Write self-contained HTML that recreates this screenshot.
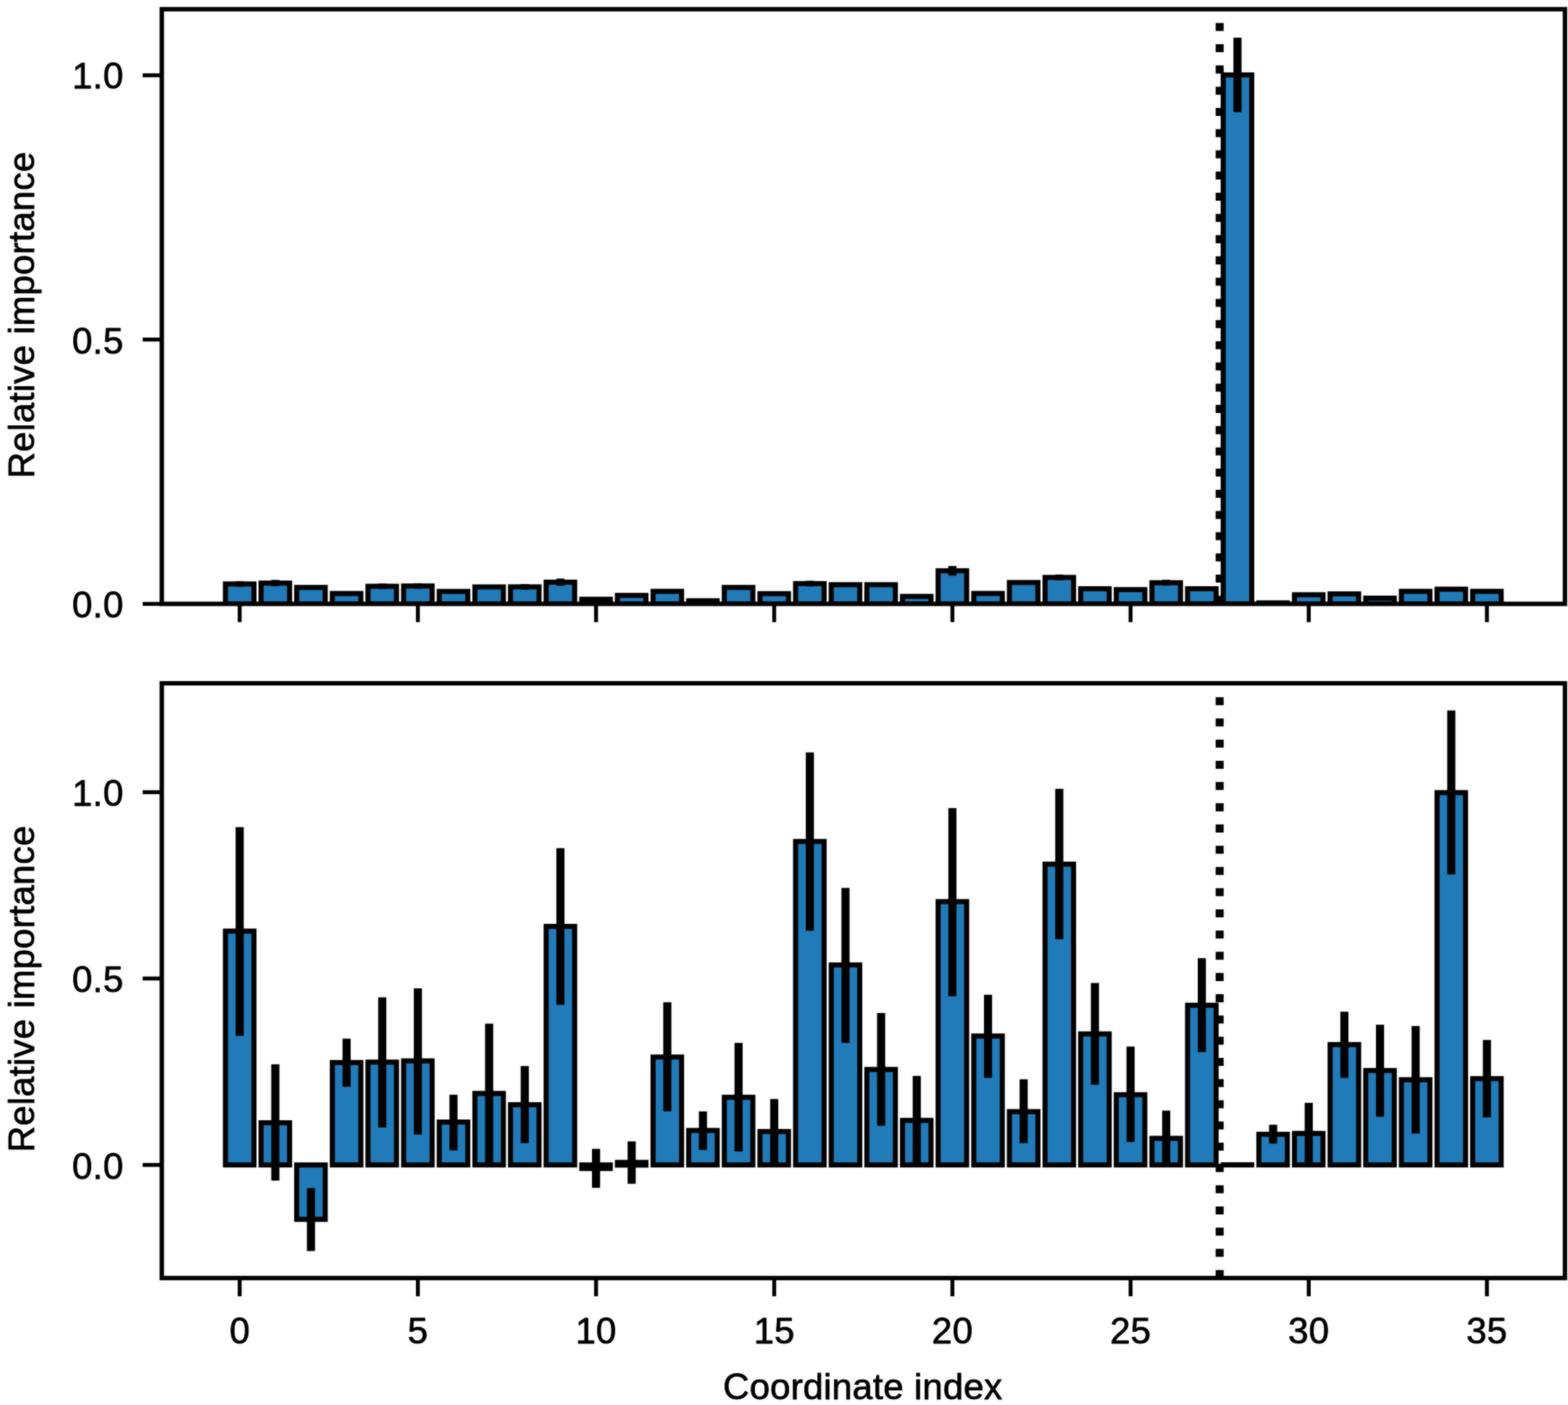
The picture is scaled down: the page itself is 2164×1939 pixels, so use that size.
<!DOCTYPE html>
<html lang="en"><head><meta charset="utf-8"><title>Relative importance by coordinate index</title>
<style>html,body{margin:0;padding:0;background:#fff}body{width:2164px;height:1939px}svg{display:block}text{font-family:"Liberation Sans",Arial,Helvetica,sans-serif;font-size:50.4px;fill:#000;stroke:#000;stroke-width:0.9px;stroke-linejoin:round;letter-spacing:0.3px}</style>
</head><body>
<svg width="2164" height="1939" viewBox="0 0 2164 1939">
<defs><filter id="soft" filterUnits="userSpaceOnUse" x="-20" y="-20" width="2204" height="1979" color-interpolation-filters="sRGB"><feGaussianBlur stdDeviation="1" result="b"/><feComposite in="SourceGraphic" in2="b" operator="arithmetic" k1="0" k2="0.45" k3="0.55" k4="0"/></filter></defs>
<defs><clipPath id="clip-top"><rect x="223.3" y="12.7" width="1936.5" height="820.7"/></clipPath><clipPath id="clip-bottom"><rect x="223.3" y="943" width="1936.5" height="820.8"/></clipPath></defs>
<g filter="url(#soft)">
<rect x="-30" y="-30" width="2224" height="1999" fill="#fff"/>
<g id="top-chart">
<g clip-path="url(#clip-top)">
<rect x="311.13" y="805.9" width="39.34" height="27.5" fill="#217bb9" stroke="#000" stroke-width="7.0"/>
<rect x="360.31" y="804.7" width="39.34" height="28.7" fill="#217bb9" stroke="#000" stroke-width="7.0"/>
<rect x="409.49" y="810.7" width="39.34" height="22.7" fill="#217bb9" stroke="#000" stroke-width="7.0"/>
<rect x="458.67" y="819.1" width="39.34" height="14.3" fill="#217bb9" stroke="#000" stroke-width="7.0"/>
<rect x="507.85" y="809.1" width="39.34" height="24.3" fill="#217bb9" stroke="#000" stroke-width="7.0"/>
<rect x="557.03" y="808.7" width="39.34" height="24.7" fill="#217bb9" stroke="#000" stroke-width="7.0"/>
<rect x="606.21" y="816.2" width="39.34" height="17.2" fill="#217bb9" stroke="#000" stroke-width="7.0"/>
<rect x="655.39" y="810" width="39.34" height="23.4" fill="#217bb9" stroke="#000" stroke-width="7.0"/>
<rect x="704.57" y="809.9" width="39.34" height="23.5" fill="#217bb9" stroke="#000" stroke-width="7.0"/>
<rect x="753.75" y="803.4" width="39.34" height="30" fill="#217bb9" stroke="#000" stroke-width="7.0"/>
<rect x="802.93" y="827" width="39.34" height="6.4" fill="#217bb9" stroke="#000" stroke-width="7.0"/>
<rect x="852.11" y="821.7" width="39.34" height="11.7" fill="#217bb9" stroke="#000" stroke-width="7.0"/>
<rect x="901.29" y="816.1" width="39.34" height="17.3" fill="#217bb9" stroke="#000" stroke-width="7.0"/>
<rect x="950.47" y="829.1" width="39.34" height="4.3" fill="#217bb9" stroke="#000" stroke-width="7.0"/>
<rect x="999.65" y="810.7" width="39.34" height="22.7" fill="#217bb9" stroke="#000" stroke-width="7.0"/>
<rect x="1048.83" y="819.3" width="39.34" height="14.1" fill="#217bb9" stroke="#000" stroke-width="7.0"/>
<rect x="1098.01" y="805.4" width="39.34" height="28" fill="#217bb9" stroke="#000" stroke-width="7.0"/>
<rect x="1147.19" y="806.9" width="39.34" height="26.5" fill="#217bb9" stroke="#000" stroke-width="7.0"/>
<rect x="1196.37" y="806.9" width="39.34" height="26.5" fill="#217bb9" stroke="#000" stroke-width="7.0"/>
<rect x="1245.55" y="823.1" width="39.34" height="10.3" fill="#217bb9" stroke="#000" stroke-width="7.0"/>
<rect x="1294.73" y="787.7" width="39.34" height="45.7" fill="#217bb9" stroke="#000" stroke-width="7.0"/>
<rect x="1343.91" y="819" width="39.34" height="14.4" fill="#217bb9" stroke="#000" stroke-width="7.0"/>
<rect x="1393.09" y="803.9" width="39.34" height="29.5" fill="#217bb9" stroke="#000" stroke-width="7.0"/>
<rect x="1442.27" y="796.9" width="39.34" height="36.5" fill="#217bb9" stroke="#000" stroke-width="7.0"/>
<rect x="1491.45" y="812.5" width="39.34" height="20.9" fill="#217bb9" stroke="#000" stroke-width="7.0"/>
<rect x="1540.63" y="813.7" width="39.34" height="19.7" fill="#217bb9" stroke="#000" stroke-width="7.0"/>
<rect x="1589.81" y="804.2" width="39.34" height="29.2" fill="#217bb9" stroke="#000" stroke-width="7.0"/>
<rect x="1638.99" y="812.5" width="39.34" height="20.9" fill="#217bb9" stroke="#000" stroke-width="7.0"/>
<rect x="1688.17" y="103.4" width="39.34" height="730" fill="#217bb9" stroke="#000" stroke-width="7.0"/>
<rect x="1737.35" y="832" width="39.34" height="1.4" fill="#217bb9" stroke="#000" stroke-width="7.0"/>
<rect x="1786.53" y="820.8" width="39.34" height="12.6" fill="#217bb9" stroke="#000" stroke-width="7.0"/>
<rect x="1835.71" y="819.6" width="39.34" height="13.8" fill="#217bb9" stroke="#000" stroke-width="7.0"/>
<rect x="1884.89" y="825.5" width="39.34" height="7.9" fill="#217bb9" stroke="#000" stroke-width="7.0"/>
<rect x="1934.07" y="816.1" width="39.34" height="17.3" fill="#217bb9" stroke="#000" stroke-width="7.0"/>
<rect x="1983.25" y="813.1" width="39.34" height="20.3" fill="#217bb9" stroke="#000" stroke-width="7.0"/>
<rect x="2032.43" y="816.1" width="39.34" height="17.3" fill="#217bb9" stroke="#000" stroke-width="7.0"/>
<rect x="325.2" y="802" width="11.2" height="7.8" fill="#000"/>
<rect x="374.38" y="800.3" width="11.2" height="8.8" fill="#000"/>
<rect x="521.92" y="805.3" width="11.2" height="7.6" fill="#000"/>
<rect x="571.1" y="804.9" width="11.2" height="7.6" fill="#000"/>
<rect x="718.64" y="806" width="11.2" height="7.8" fill="#000"/>
<rect x="767.82" y="798.5" width="11.2" height="9.8" fill="#000"/>
<rect x="1112.08" y="801.5" width="11.2" height="7.8" fill="#000"/>
<rect x="1308.8" y="781.1" width="11.2" height="13.2" fill="#000"/>
<rect x="1456.34" y="792.9" width="11.2" height="8" fill="#000"/>
<rect x="1603.88" y="800.2" width="11.2" height="8" fill="#000"/>
<rect x="1702.24" y="52" width="11.2" height="102.8" fill="#000"/>
<line x1="1683.25" y1="833.4" x2="1683.25" y2="12.7" stroke="#000" stroke-width="11.05" stroke-dasharray="11.05 18.23"/>
</g>
<rect x="196.9" y="101.2" width="26.4" height="5.4" fill="#000"/>
<text x="170.5" y="122" text-anchor="end">1.0</text>
<rect x="196.9" y="465.9" width="26.4" height="5.4" fill="#000"/>
<text x="170.5" y="488.2" text-anchor="end">0.5</text>
<rect x="196.9" y="830.7" width="26.4" height="5.4" fill="#000"/>
<text x="170.5" y="852" text-anchor="end">0.0</text>
<rect x="328.1" y="833.4" width="5.4" height="25.2" fill="#000"/>
<rect x="574" y="833.4" width="5.4" height="25.2" fill="#000"/>
<rect x="819.9" y="833.4" width="5.4" height="25.2" fill="#000"/>
<rect x="1065.8" y="833.4" width="5.4" height="25.2" fill="#000"/>
<rect x="1311.7" y="833.4" width="5.4" height="25.2" fill="#000"/>
<rect x="1557.6" y="833.4" width="5.4" height="25.2" fill="#000"/>
<rect x="1803.5" y="833.4" width="5.4" height="25.2" fill="#000"/>
<rect x="2049.4" y="833.4" width="5.4" height="25.2" fill="#000"/>
<rect x="223.3" y="12.7" width="1936.5" height="820.7" fill="none" stroke="#000" stroke-width="6.1"/>
<text transform="translate(46.8,434.8) rotate(-90)" text-anchor="middle">Relative importance</text>
</g>
<g id="bottom-chart">
<g clip-path="url(#clip-bottom)">
<rect x="311.13" y="1285" width="39.34" height="322.7" fill="#217bb9" stroke="#000" stroke-width="7.0"/>
<rect x="360.31" y="1549.5" width="39.34" height="58.2" fill="#217bb9" stroke="#000" stroke-width="7.0"/>
<rect x="409.49" y="1607.7" width="39.34" height="75.1" fill="#217bb9" stroke="#000" stroke-width="7.0"/>
<rect x="458.67" y="1466.4" width="39.34" height="141.3" fill="#217bb9" stroke="#000" stroke-width="7.0"/>
<rect x="507.85" y="1465.8" width="39.34" height="141.9" fill="#217bb9" stroke="#000" stroke-width="7.0"/>
<rect x="557.03" y="1464.1" width="39.34" height="143.6" fill="#217bb9" stroke="#000" stroke-width="7.0"/>
<rect x="606.21" y="1548.5" width="39.34" height="59.2" fill="#217bb9" stroke="#000" stroke-width="7.0"/>
<rect x="655.39" y="1509" width="39.34" height="98.7" fill="#217bb9" stroke="#000" stroke-width="7.0"/>
<rect x="704.57" y="1524.6" width="39.34" height="83.1" fill="#217bb9" stroke="#000" stroke-width="7.0"/>
<rect x="753.75" y="1278.5" width="39.34" height="329.2" fill="#217bb9" stroke="#000" stroke-width="7.0"/>
<rect x="802.93" y="1607.7" width="39.34" height="4.9" fill="#217bb9" stroke="#000" stroke-width="7.0"/>
<rect x="852.11" y="1604.2" width="39.34" height="3.7" fill="#217bb9" stroke="#000" stroke-width="7.0"/>
<rect x="901.29" y="1458.8" width="39.34" height="148.9" fill="#217bb9" stroke="#000" stroke-width="7.0"/>
<rect x="950.47" y="1560.1" width="39.34" height="47.6" fill="#217bb9" stroke="#000" stroke-width="7.0"/>
<rect x="999.65" y="1514.3" width="39.34" height="93.4" fill="#217bb9" stroke="#000" stroke-width="7.0"/>
<rect x="1048.83" y="1561.6" width="39.34" height="46.1" fill="#217bb9" stroke="#000" stroke-width="7.0"/>
<rect x="1098.01" y="1161.3" width="39.34" height="446.4" fill="#217bb9" stroke="#000" stroke-width="7.0"/>
<rect x="1147.19" y="1331.7" width="39.34" height="276" fill="#217bb9" stroke="#000" stroke-width="7.0"/>
<rect x="1196.37" y="1475.9" width="39.34" height="131.8" fill="#217bb9" stroke="#000" stroke-width="7.0"/>
<rect x="1245.55" y="1546.2" width="39.34" height="61.5" fill="#217bb9" stroke="#000" stroke-width="7.0"/>
<rect x="1294.73" y="1244.3" width="39.34" height="363.4" fill="#217bb9" stroke="#000" stroke-width="7.0"/>
<rect x="1343.91" y="1429.8" width="39.34" height="177.9" fill="#217bb9" stroke="#000" stroke-width="7.0"/>
<rect x="1393.09" y="1534.1" width="39.34" height="73.6" fill="#217bb9" stroke="#000" stroke-width="7.0"/>
<rect x="1442.27" y="1192.6" width="39.34" height="415.1" fill="#217bb9" stroke="#000" stroke-width="7.0"/>
<rect x="1491.45" y="1426.9" width="39.34" height="180.8" fill="#217bb9" stroke="#000" stroke-width="7.0"/>
<rect x="1540.63" y="1510.8" width="39.34" height="96.9" fill="#217bb9" stroke="#000" stroke-width="7.0"/>
<rect x="1589.81" y="1571" width="39.34" height="36.7" fill="#217bb9" stroke="#000" stroke-width="7.0"/>
<rect x="1638.99" y="1387.3" width="39.34" height="220.4" fill="#217bb9" stroke="#000" stroke-width="7.0"/>
<rect x="1688.17" y="1607.5" width="39.34" height="0.2" fill="#217bb9" stroke="#000" stroke-width="7.0"/>
<rect x="1737.35" y="1565.4" width="39.34" height="42.3" fill="#217bb9" stroke="#000" stroke-width="7.0"/>
<rect x="1786.53" y="1564.2" width="39.34" height="43.5" fill="#217bb9" stroke="#000" stroke-width="7.0"/>
<rect x="1835.71" y="1441.6" width="39.34" height="166.1" fill="#217bb9" stroke="#000" stroke-width="7.0"/>
<rect x="1884.89" y="1477.4" width="39.34" height="130.3" fill="#217bb9" stroke="#000" stroke-width="7.0"/>
<rect x="1934.07" y="1490.1" width="39.34" height="117.6" fill="#217bb9" stroke="#000" stroke-width="7.0"/>
<rect x="1983.25" y="1093.9" width="39.34" height="513.8" fill="#217bb9" stroke="#000" stroke-width="7.0"/>
<rect x="2032.43" y="1488.6" width="39.34" height="119.1" fill="#217bb9" stroke="#000" stroke-width="7.0"/>
<rect x="325.2" y="1141.5" width="11.2" height="288.1" fill="#000"/>
<rect x="374.38" y="1468.8" width="11.2" height="160.5" fill="#000"/>
<rect x="423.56" y="1639.6" width="11.2" height="86.9" fill="#000"/>
<rect x="472.74" y="1433.4" width="11.2" height="66.5" fill="#000"/>
<rect x="521.92" y="1376.4" width="11.2" height="179.6" fill="#000"/>
<rect x="571.1" y="1364" width="11.2" height="201.7" fill="#000"/>
<rect x="620.28" y="1510.8" width="11.2" height="76.8" fill="#000"/>
<rect x="669.46" y="1412.7" width="11.2" height="192.1" fill="#000"/>
<rect x="718.64" y="1471.2" width="11.2" height="106.4" fill="#000"/>
<rect x="767.82" y="1170.5" width="11.2" height="216.2" fill="#000"/>
<rect x="817" y="1585.5" width="11.2" height="53.8" fill="#000"/>
<rect x="866.18" y="1575.2" width="11.2" height="58.5" fill="#000"/>
<rect x="915.36" y="1383.2" width="11.2" height="150.6" fill="#000"/>
<rect x="964.54" y="1533.8" width="11.2" height="53.2" fill="#000"/>
<rect x="1013.72" y="1439.3" width="11.2" height="149.8" fill="#000"/>
<rect x="1062.9" y="1516.7" width="11.2" height="89.3" fill="#000"/>
<rect x="1112.08" y="1038.4" width="11.2" height="246.1" fill="#000"/>
<rect x="1161.26" y="1225.4" width="11.2" height="213.9" fill="#000"/>
<rect x="1210.44" y="1398" width="11.2" height="155.6" fill="#000"/>
<rect x="1259.62" y="1484.8" width="11.2" height="122.3" fill="#000"/>
<rect x="1308.8" y="1115.2" width="11.2" height="259.7" fill="#000"/>
<rect x="1357.98" y="1372.8" width="11.2" height="114.7" fill="#000"/>
<rect x="1407.16" y="1489.5" width="11.2" height="88.1" fill="#000"/>
<rect x="1456.34" y="1088.6" width="11.2" height="207.7" fill="#000"/>
<rect x="1505.52" y="1356.6" width="11.2" height="140.3" fill="#000"/>
<rect x="1554.7" y="1444.3" width="11.2" height="131.8" fill="#000"/>
<rect x="1603.88" y="1532.7" width="11.2" height="76.1" fill="#000"/>
<rect x="1653.06" y="1322.3" width="11.2" height="129.7" fill="#000"/>
<rect x="1751.42" y="1552.2" width="11.2" height="26" fill="#000"/>
<rect x="1800.6" y="1522" width="11.2" height="83.9" fill="#000"/>
<rect x="1849.78" y="1396.2" width="11.2" height="91.3" fill="#000"/>
<rect x="1898.96" y="1414.2" width="11.2" height="127" fill="#000"/>
<rect x="1948.14" y="1416" width="11.2" height="148.3" fill="#000"/>
<rect x="1997.32" y="980.5" width="11.2" height="226.3" fill="#000"/>
<rect x="2046.5" y="1435.2" width="11.2" height="106.9" fill="#000"/>
<line x1="1683.25" y1="1763.8" x2="1683.25" y2="943" stroke="#000" stroke-width="11.05" stroke-dasharray="11.05 18.23"/>
</g>
<rect x="196.9" y="1090.6" width="26.4" height="5.4" fill="#000"/>
<text x="170.5" y="1112.3" text-anchor="end">1.0</text>
<rect x="196.9" y="1347.7" width="26.4" height="5.4" fill="#000"/>
<text x="170.5" y="1368.5" text-anchor="end">0.5</text>
<rect x="196.9" y="1605" width="26.4" height="5.4" fill="#000"/>
<text x="170.5" y="1627" text-anchor="end">0.0</text>
<rect x="328.1" y="1763.8" width="5.4" height="25.2" fill="#000"/>
<text x="330.8" y="1853.6" text-anchor="middle">0</text>
<rect x="574" y="1763.8" width="5.4" height="25.2" fill="#000"/>
<text x="576.7" y="1853.6" text-anchor="middle">5</text>
<rect x="819.9" y="1763.8" width="5.4" height="25.2" fill="#000"/>
<text x="822.6" y="1853.6" text-anchor="middle">10</text>
<rect x="1065.8" y="1763.8" width="5.4" height="25.2" fill="#000"/>
<text x="1068.5" y="1853.6" text-anchor="middle">15</text>
<rect x="1311.7" y="1763.8" width="5.4" height="25.2" fill="#000"/>
<text x="1314.4" y="1853.6" text-anchor="middle">20</text>
<rect x="1557.6" y="1763.8" width="5.4" height="25.2" fill="#000"/>
<text x="1560.3" y="1853.6" text-anchor="middle">25</text>
<rect x="1803.5" y="1763.8" width="5.4" height="25.2" fill="#000"/>
<text x="1806.2" y="1853.6" text-anchor="middle">30</text>
<rect x="2049.4" y="1763.8" width="5.4" height="25.2" fill="#000"/>
<text x="2052.1" y="1853.6" text-anchor="middle">35</text>
<rect x="223.3" y="943" width="1936.5" height="820.8" fill="none" stroke="#000" stroke-width="6.1"/>
<text transform="translate(46.8,1364.8) rotate(-90)" text-anchor="middle">Relative importance</text>
<text x="1190.7" y="1930.8" text-anchor="middle">Coordinate index</text>
</g>
</g>
</svg></body></html>
